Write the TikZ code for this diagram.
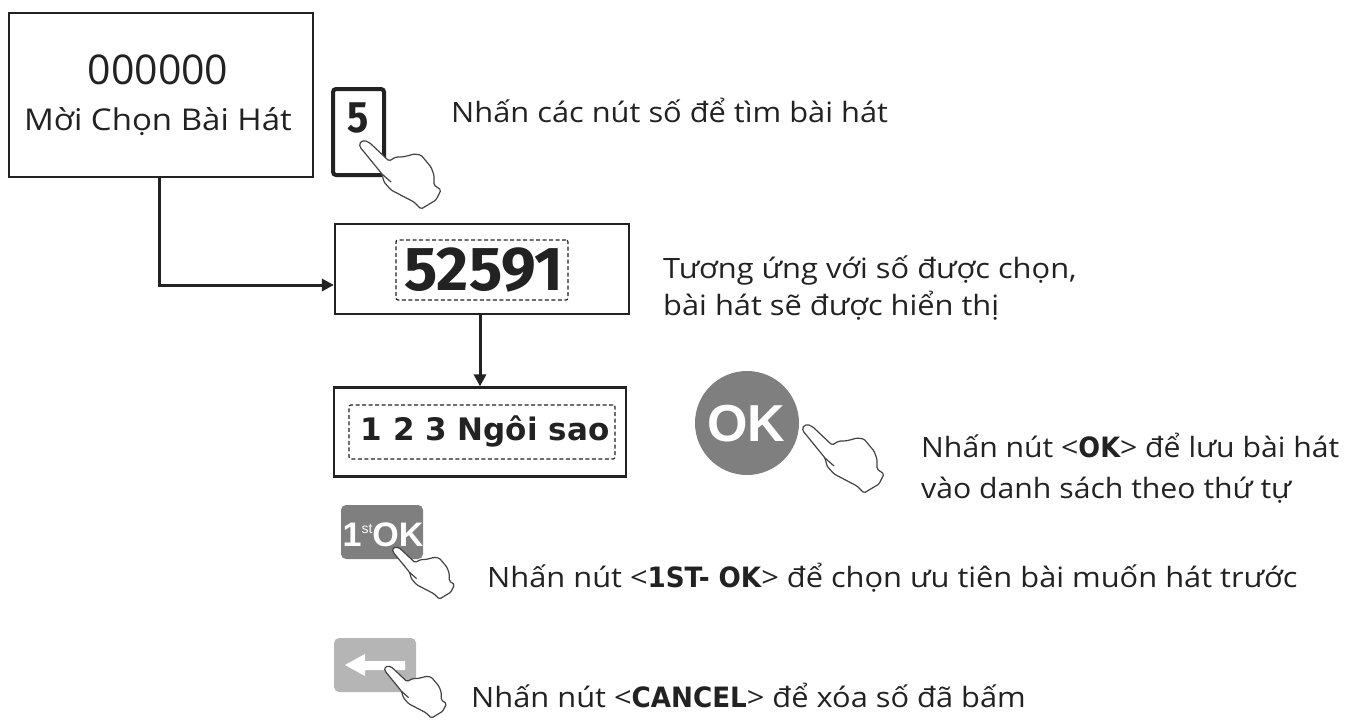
\documentclass[tikz,border=0pt]{standalone}
\usepackage{fontspec}
\usepackage{graphicx}
\setmainfont{Open Sans}
\newfontfamily\fira{Fira Sans}
\newfontfamily\heavy{DejaVu Sans}
\newfontfamily\arial{Liberation Sans}
\usetikzlibrary{arrows.meta}
\definecolor{ink}{HTML}{222222}
\definecolor{btn}{HTML}{7F7F7F}
\definecolor{btnlight}{HTML}{B5B5B5}
\newcommand{\hv}[1]{\scalebox{.85}[1]{\heavy\bfseries #1}}
\tikzset{
  every node/.style={text=ink,inner sep=0pt},
  panel/.style={draw=ink,line width=2.2pt,fill=white},
  dashbox/.style={draw=ink,line width=1.2pt,dash pattern=on 4pt off 2.5pt,rounded corners=2pt},
  link/.style={draw=ink,line width=3pt,-{Triangle[length=12pt,width=12pt]}},
  lbl/.style={anchor=west,align=left,xscale=1.1,font=\fontsize{28}{37}\selectfont},
  fingerhand/.pic={
    \draw[ink!85,line width=1.2pt,fill=white,line join=round,rounded corners=1.5pt]
      (0,0) .. controls (-1,-6) and (5,-8) .. (11,-3) -- (29,14) -- (36,10) -- (42,10) -- (47,9) -- (54,7) -- (61,8)
      -- (71,20) -- (74,28) -- (74,38) -- (81,43) -- (76,53) -- (61,62) -- (54,55) -- (31,43) -- (24,35) -- (22,27) -- cycle;
    \draw[ink!85,line width=1.2pt] (22,27) -- (31,35);
  }
}
\begin{document}
\begin{tikzpicture}[x=1pt,y=-1pt]
\useasboundingbox (0,0) rectangle (1365,720);
% first panel
\node[panel,minimum width=304pt,minimum height=164pt] (start) at (161,95) {};
\node[font=\fontsize{41}{41}\selectfont] (code) at (158,70) {000000};
\node[font=\fontsize{30}{30}\selectfont,xscale=1.1] (invite) at (158,122) {Mời Chọn Bài Hát};
% key 5
\draw[ink,line width=4pt,rounded corners=3pt,fill=white] (333,89) rectangle (384,175);
\node[font=\fira\bfseries\fontsize{44}{44}\selectfont,xscale=.9] (five) at (358,118) {5};
\pic at (360,147) {fingerhand};
\node[lbl] (t1) at (451,110) {Nhấn các nút số để tìm bài hát};
% number panel
\node[panel,minimum width=294pt,minimum height=90pt] (num) at (482,269) {};
\node[dashbox,minimum width=172pt,minimum height=60pt] (numd) at (482,270) {};
\node[font=\fira\bfseries\fontsize{62}{62}\selectfont] (numt) at (484,270) {52591};
\node[lbl] (t2) at (663,288) {Tương ứng với số được chọn,\\bài hát sẽ được hiển thị};
% star panel
\node[panel,minimum width=292pt,minimum height=89pt] (star) at (480,432) {};
\node[dashbox,minimum width=266pt,minimum height=54pt] (stard) at (482,432) {};
\node[font=\heavy\bfseries\fontsize{31}{31}\selectfont] (start2) at (485,431) {1 2 3 Ngôi sao};
% connectors
\coordinate (bend) at (159,285);
\draw[link] (start.south -| bend) -- (bend) -- (num.west |- bend);
\draw[link] (num.south -| star.north) -- (star.north);
% OK
\node[circle,fill=btn,minimum size=104pt] (ok) at (747,423) {};
\node[font=\arial\bfseries\fontsize{52}{52}\selectfont,text=white] (okt) at (746,424) {OK};
\pic at (803,431) {fingerhand};
\node[lbl,xscale=.98,font=\fontsize{28}{41}\selectfont] (t3) at (921,468) {Nhấn nút <\hv{OK}> để lưu bài hát\\vào danh sách theo thứ tự};
% 1st OK
\node[fill=btn,rounded corners=5pt,minimum width=82pt,minimum height=54pt] (first) at (382,532) {};
\node[font=\arial\bfseries\fontsize{34}{34}\selectfont,text=white] (firstt) at (383,535) {1\raisebox{13pt}{\fontsize{14}{14}\mdseries\selectfont st}OK};
\pic[scale=.76] at (393,552) {fingerhand};
\node[lbl] (t4) at (487,578) {Nhấn nút <\hv{1ST- OK}> để chọn ưu tiên bài muốn hát trước};
% cancel
\node[fill=btnlight,rounded corners=5pt,minimum width=82pt,minimum height=54pt] (cancel) at (375,665) {};
\fill[white] (345,665) -- (365,654) -- (365,661) -- (405,661) -- (405,670) -- (365,670) -- (365,676) -- cycle;
\pic[scale=.76] at (385,671) {fingerhand};
\node[lbl] (t5) at (471,695) {Nhấn nút <\hv{CANCEL}> để xóa số đã bấm};
\end{tikzpicture}
\end{document}
